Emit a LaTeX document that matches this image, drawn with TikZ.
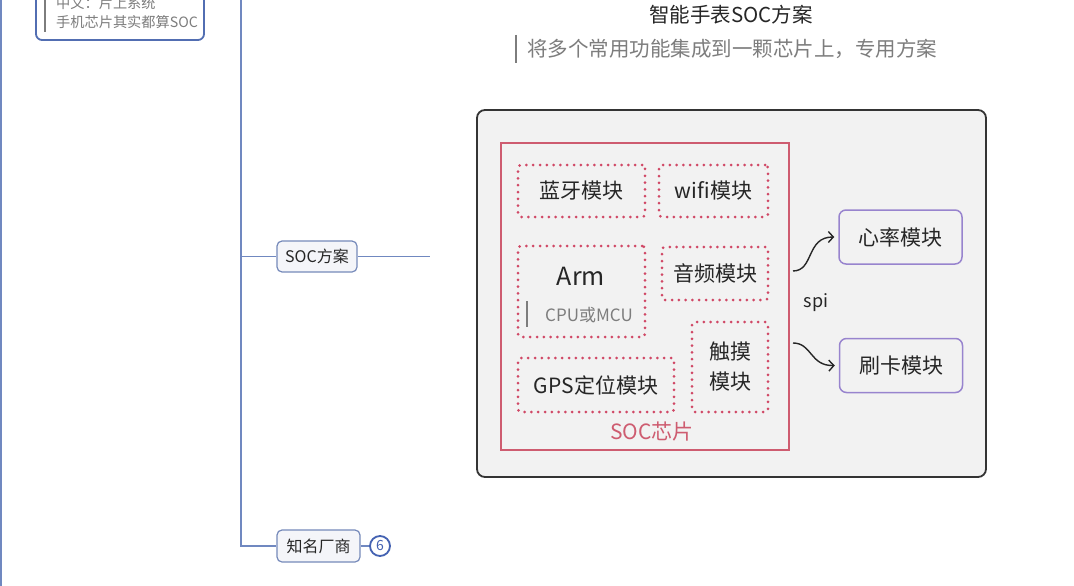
\documentclass[tikz,border=0pt]{standalone}
\usepackage{fontspec}
\setmainfont{Noto Sans CJK SC}
\usepackage{xcolor}
\usetikzlibrary{positioning, arrows.meta, calc}
\definecolor{mindblue}{RGB}{112,136,192}
\definecolor{topicblue}{RGB}{118,138,186}
\definecolor{notebluedark}{RGB}{82,110,178}
\definecolor{topicfill}{RGB}{244,245,249}
\definecolor{inkdark}{RGB}{38,38,38}
\definecolor{inkgray}{RGB}{125,125,125}
\definecolor{barred}{RGB}{208,72,102}
\definecolor{chipred}{RGB}{206,92,112}
\definecolor{panelfill}{RGB}{242,242,242}
\definecolor{panelline}{RGB}{52,52,52}
\definecolor{periphpurple}{RGB}{152,132,206}
\definecolor{countblue}{RGB}{68,98,178}

\begin{document}
\begin{tikzpicture}[
    x=1pt, y=-1pt,
    >={Straight Barb[length=5pt, width=11pt]},
    mindline/.style={draw=mindblue, line width=1.5pt},
    topic/.style={draw=topicblue, fill=topicfill, rounded corners=5pt, line width=1.2pt,
        minimum height=31pt, inner sep=0pt, font=\fontsize{16}{18}\selectfont, text=inkdark},
    modbox/.style={draw=barred, line width=3pt, dash pattern=on 0pt off 6.8pt, line cap=round,
        rounded corners=3pt, inner sep=0pt, align=center,
        font=\fontsize{21}{30}\selectfont, text=inkdark},
    periph/.style={draw=periphpurple, fill=panelfill, rounded corners=7pt, line width=1.5pt,
        minimum width=123pt, minimum height=54pt, font=\fontsize{21}{25}\selectfont, text=inkdark},
    notebar/.style={draw=inkgray, line width=2pt},
    spiarrow/.style={->, draw=inkdark, line width=1.4pt}
]
\clip (0,0) rectangle (1074,586);
\fill[white] (0,0) rectangle (1074,586);

% mind map branch
\coordinate (edgeTop) at (1,0);
\coordinate (edgeBot) at (1,586);
\draw[mindline] (edgeTop) -- (edgeBot);

\node[draw=notebluedark, fill=white, rounded corners=6pt, line width=1.8pt,
    minimum width=168pt, minimum height=70pt] (summary) at (120,5) {};
\node[anchor=west, align=left, text=inkgray, font=\fontsize{14.2}{19}\selectfont, inner sep=0pt]
    (summaryText) at (56,12.5) {中文：片上系统\\手机芯片其实都算SOC};
\draw[notebar] (45,-10) -- (45,32);

\node[topic, minimum width=80pt] (soc) at (317,256.5) {SOC方案};
\node[topic, minimum width=83pt, minimum height=32pt] (vendor) at (318.5,546) {知名厂商};
\node[draw=countblue, circle, line width=1.8pt, minimum size=20pt, inner sep=0pt,
    text=countblue, font=\fontsize{14}{16}\selectfont] (count) at (380,546) {6};

\coordinate (trunkTop) at (241,0);
\coordinate (socEnd) at (430,256.5);
\draw[mindline] (trunkTop) |- (vendor.west);
\draw[mindline] (trunkTop |- soc.west) -- (soc.west);
\draw[mindline] (soc.east) -- (socEnd);
\draw[mindline] (vendor.east) -- (count.west);

% title
\node[text=inkdark, font=\fontsize{20.5}{24}\selectfont] (title) at (731,15) {智能手表SOC方案};
\node[anchor=west, text=inkgray, font=\fontsize{20.5}{24}\selectfont, inner sep=0pt]
    (subtitle) at (527,49) {将多个常用功能集成到一颗芯片上，专用方案};
\draw[notebar] (516,35) -- (516,63);

% panel and chip
\node[draw=panelline, fill=panelfill, rounded corners=8pt, line width=1.8pt,
    minimum width=509pt, minimum height=367pt] (panel) at (731.5,293.5) {};
\node[draw=chipred, line width=1.5pt, minimum width=288pt, minimum height=307pt] (chip) at (645,296.5) {};
\node[text=chipred, font=\fontsize{21}{25}\selectfont] (chipLabel) at (652,432) {SOC芯片};

\node[modbox, minimum width=127pt, minimum height=52pt] (bt) at (581.5,191) {蓝牙模块};
\node[modbox, minimum width=109pt, minimum height=52pt] (wifi) at (713.5,191) {wifi模块};
\node[modbox, minimum width=127pt, minimum height=91pt] (arm) at (581.5,291.5) {};
\node[text=inkdark, font=\fontsize{25}{28}\selectfont] (armName) at (581,276) {Arm};
\node[text=inkgray, font=\fontsize{17}{20}\selectfont, inner sep=0pt] (armNote) at (589,315) {CPU或MCU};
\draw[notebar] (527,301) -- (527,327);
\node[modbox, minimum width=106pt, minimum height=53pt] (audio) at (715,273.5) {音频模块};
\node[modbox, minimum width=76pt, minimum height=90pt] (touch) at (730,367) {触摸\\模块};
\node[modbox, minimum width=156pt, minimum height=54pt] (gps) at (596,385) {GPS定位模块};

% peripherals
\node[periph] (heart) at (900.5,237) {心率模块};
\node[periph] (card) at (901,365.5) {刷卡模块};
\node[text=inkdark, font=\fontsize{18}{20}\selectfont] (spi) at (816,303) {spi};

\coordinate (spiOutA) at (793,271);
\coordinate (spiOutB) at (793,343);
\draw[spiarrow] (spiOutA) .. controls (814,271) and (806,237) .. ([xshift=-4pt]heart.west);
\draw[spiarrow] (spiOutB) .. controls (812,343) and (810,366) .. ([xshift=-4pt]card.west);

\end{tikzpicture}
\end{document}
